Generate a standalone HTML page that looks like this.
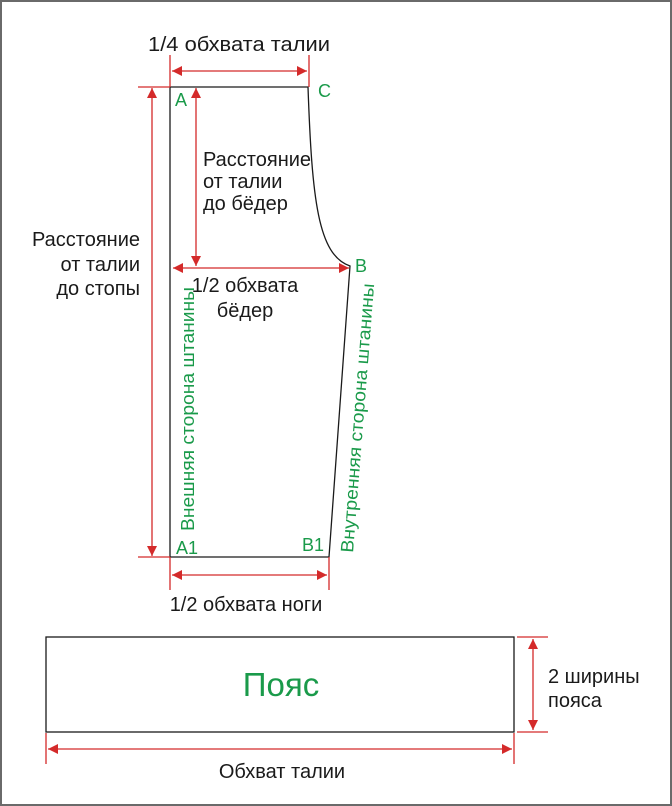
<!DOCTYPE html>
<html><head><meta charset="utf-8"><style>
html,body{margin:0;padding:0;background:#fff}
svg{display:block}
text{font-family:"Liberation Sans",Arial,sans-serif}
</style></head><body>
<svg width="672" height="806" viewBox="0 0 672 806" xmlns="http://www.w3.org/2000/svg">
<defs>
<marker id="ar" viewBox="0 0 10 10" refX="10" refY="5" markerWidth="13" markerHeight="10" markerUnits="userSpaceOnUse" orient="auto-start-reverse">
<path d="M0,0 L10,5 L0,10 z" fill="#d42a2a"/></marker>
</defs>
<rect x="1" y="1" width="670" height="804" fill="#fff" stroke="#6a6a6a" stroke-width="2"/>
<path d="M170,87 L308,87 C312,200 318,255 350,266 L329,557 L170,557 Z" fill="none" stroke="#1a1a1a" stroke-width="1.3"/>
<g stroke="#d42a2a" stroke-width="1.3" fill="none">
<line x1="170" y1="55" x2="170" y2="87"/><line x1="309" y1="55" x2="309" y2="87"/>
<line x1="172" y1="71" x2="307" y2="71" marker-start="url(#ar)" marker-end="url(#ar)"/>
<line x1="138" y1="87" x2="170" y2="87"/><line x1="138" y1="557" x2="170" y2="557"/>
<line x1="152" y1="88" x2="152" y2="556" marker-start="url(#ar)" marker-end="url(#ar)"/>
<line x1="196" y1="88" x2="196" y2="266" marker-start="url(#ar)" marker-end="url(#ar)"/>
<line x1="173" y1="268" x2="349" y2="268" marker-start="url(#ar)" marker-end="url(#ar)"/>
<line x1="170" y1="557" x2="170" y2="590"/><line x1="329" y1="557" x2="329" y2="590"/>
<line x1="172" y1="575" x2="327" y2="575" marker-start="url(#ar)" marker-end="url(#ar)"/>
<line x1="46" y1="733" x2="46" y2="764"/><line x1="514" y1="733" x2="514" y2="764"/>
<line x1="48" y1="749" x2="512" y2="749" marker-start="url(#ar)" marker-end="url(#ar)"/>
<line x1="517" y1="637" x2="548" y2="637"/><line x1="517" y1="732" x2="548" y2="732"/>
<line x1="533" y1="639" x2="533" y2="730" marker-start="url(#ar)" marker-end="url(#ar)"/>
</g>
<rect x="46" y="637" width="468" height="95" fill="none" stroke="#1a1a1a" stroke-width="1.3"/>
<g fill="#1a1a1a" font-size="20">
<text x="239" y="51" text-anchor="middle" textLength="182" lengthAdjust="spacingAndGlyphs">1/4 обхвата талии</text>
<text x="203" y="166">Расстояние</text>
<text x="203" y="188">от талии</text>
<text x="203" y="210">до бёдер</text>
<text x="140" y="246" text-anchor="end">Расстояние</text>
<text x="140" y="271" text-anchor="end">от талии</text>
<text x="140" y="295" text-anchor="end">до стопы</text>
<text x="245" y="292" text-anchor="middle">1/2 обхвата</text>
<text x="245" y="317" text-anchor="middle">бёдер</text>
<text x="246" y="611" text-anchor="middle">1/2 обхвата ноги</text>
<text x="282" y="778" text-anchor="middle">Обхват талии</text>
<text x="548" y="683">2 ширины</text>
<text x="548" y="707">пояса</text>
</g>
<g fill="#1a9a4a" font-size="18">
<text x="175" y="106">A</text>
<text x="318" y="97">C</text>
<text x="355" y="272">B</text>
<text x="176" y="554">A1</text>
<text x="302" y="551">B1</text>
<text transform="translate(194,531) rotate(-90)" textLength="244" lengthAdjust="spacingAndGlyphs">Внешняя сторона штанины</text>
<text transform="translate(353,553) rotate(-85.5)" textLength="270" lengthAdjust="spacingAndGlyphs">Внутренняя сторона штанины</text>
<text x="281" y="696" text-anchor="middle" font-size="33">Пояс</text>
</g>
</svg>
</body></html>
